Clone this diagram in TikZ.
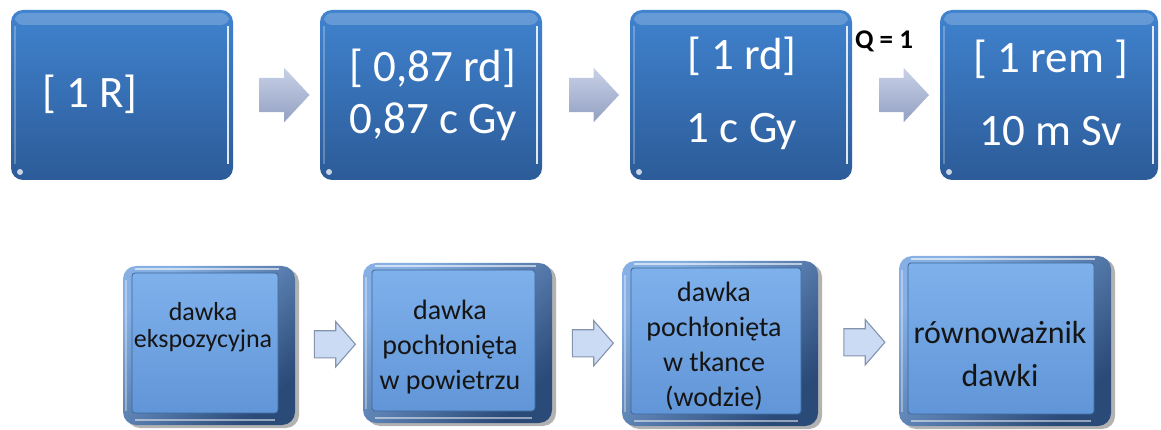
\documentclass[tikz,border=0pt]{standalone}
\usepackage{fontspec}
\setmainfont{Carlito}
\usetikzlibrary{shapes.arrows,shadows,calc}
\definecolor{topA}{HTML}{4083CF}
\definecolor{topB}{HTML}{2C5B98}
\definecolor{arrA}{HTML}{C8D1E7}
\definecolor{arrB}{HTML}{93A0C2}
\definecolor{faceA}{HTML}{80B2EC}
\definecolor{faceB}{HTML}{5E93D6}
\definecolor{faceEdge}{HTML}{3D6699}
\definecolor{frameL}{HTML}{86B0E4}
\definecolor{frameD}{HTML}{2A4A78}
\definecolor{barrFill}{HTML}{CADBF3}
\definecolor{barrLine}{HTML}{8594AE}
\definecolor{inkdark}{HTML}{151515}
\begin{document}
\begin{tikzpicture}[x=1pt,y=-1pt,
  topbox/.style={rounded corners=12pt, top color=topA, bottom color=topB, draw=none,
    inner sep=0pt, minimum width=222pt, minimum height=170pt,
    path picture={
      \fill[white,opacity=0.2,rounded corners=8pt]
        ([shift={(4pt,-3pt)}]path picture bounding box.north west) rectangle
        ([shift={(-4pt,-15pt)}]path picture bounding box.north east);
      \draw[white,opacity=0.85,line width=1.6pt]
        ([shift={(-5pt,-16pt)}]path picture bounding box.north east) --
        ([shift={(-5pt,16pt)}]path picture bounding box.south east);
      \draw[white,opacity=0.25,line width=1.4pt]
        ([shift={(4pt,-16pt)}]path picture bounding box.north west) --
        ([shift={(4pt,16pt)}]path picture bounding box.south west);
      \fill[white,opacity=0.75]
        ([shift={(9pt,8pt)}]path picture bounding box.south west) circle (3pt);
    }},
  botbox/.style={rounded corners=13pt, draw=none, inner sep=0pt,
    top color=frameL, bottom color=frameD, shading angle=45,
    drop shadow={shadow xshift=4pt, shadow yshift=-3pt, opacity=0.3, fill=black},
    path picture={
      \shade[top color=faceA, bottom color=faceB, draw=faceEdge, line width=0.8pt, rounded corners=3pt]
        ([shift={(9pt,-7pt)}]path picture bounding box.north west) rectangle
        ([shift={(-17pt,12pt)}]path picture bounding box.south east);
      \draw[white,opacity=0.6,line width=1.2pt]
        ([shift={(12pt,-3pt)}]path picture bounding box.north west) --
        ([shift={(-16pt,-3pt)}]path picture bounding box.north east);
      \draw[white,opacity=0.5,line width=1.2pt]
        ([shift={(12pt,5pt)}]path picture bounding box.south west) --
        ([shift={(-20pt,5pt)}]path picture bounding box.south east);
      \draw[white,opacity=0.35,line width=1.2pt]
        ([shift={(3pt,-14pt)}]path picture bounding box.north west) --
        ([shift={(3pt,14pt)}]path picture bounding box.south west);
    }},
  toparrow/.style={single arrow, draw=none, top color=arrA, bottom color=arrB,
    minimum width=0pt, inner xsep=0pt, inner ysep=17pt, single arrow head extend=10pt,
    single arrow tip angle=94, minimum height=50pt},
  botarrow/.style={single arrow, draw=barrLine, line width=1.1pt, fill=barrFill,
    minimum width=0pt, inner xsep=0pt, inner ysep=13pt, single arrow head extend=9pt,
    single arrow tip angle=98, minimum height=41pt},
  toptext/.style={text=white, font=\fontsize{45}{52}\selectfont, align=center, inner sep=0pt},
  bottext/.style={text=inkdark, align=center, inner sep=0pt},
  qlabel/.style={text=black, font=\fontsize{27}{30}\selectfont\bfseries, inner sep=0pt}
]
\useasboundingbox (0,0) rectangle (1161,430);

% top row
\node[topbox] (b1) at (122,95) {};
\node[topbox] (b2) at (431,95) {};
\node[topbox] (b3) at (741,95) {};
\node[topbox, minimum width=218pt] (b4) at (1049,95) {};

\node[toparrow] (a1) at ($(b1.east)!0.5!(b2.west)$) {};
\node[toparrow] (a2) at ($(b2.east)!0.5!(b3.west)$) {};
\node[toparrow] (a3) at ($(b3.east)!0.5!(b4.west)$) {};

\node[toptext] (t1) at (90,94) {[ 1 R]};
\node[toptext] (t2) at (433,95) {[ 0,87 rd]\\0,87 c Gy};
\node[toptext] (t3) at (742,93) {[ 1 rd]\\[21pt]1 c Gy};
\node[toptext] (t4) at (1051,93) {[ 1 rem ]\\[21pt]10 m Sv};
\node[qlabel] (q) at (884,41) {Q = 1};

% bottom row
\node[botbox, minimum width=172pt, minimum height=159pt] (B1) at (209,345.5) {};
\node[botbox, minimum width=189pt, minimum height=160pt] (B2) at (457.5,343) {};
\node[botbox, minimum width=196pt, minimum height=165pt] (B3) at (720,343.5) {};
\node[botbox, minimum width=212pt, minimum height=170pt] (B4) at (1005,341) {};

\node[botarrow] (c1) at ($(B1.east)!0.5!(B2.west)$) {};
\node[botarrow] (c2) at ($(B2.east)!0.5!(B3.west)$) {};
\node[botarrow] (c3) at ($(B3.east)!0.5!(B4.west)$) {};

\node[bottext, font=\fontsize{26}{27}\selectfont] (s1) at (203,327) {dawka\\ekspozycyjna};
\node[bottext, font=\fontsize{28}{35}\selectfont] (s2) at (450,347) {dawka\\pochłonięta\\w powietrzu};
\node[bottext, font=\fontsize{28}{35}\selectfont] (s3) at (714,346) {dawka\\pochłonięta\\w tkance\\(wodzie)};
\node[bottext, font=\fontsize{32}{43}\selectfont] (s4) at (1000,354) {równoważnik\\dawki};
\end{tikzpicture}
\end{document}
